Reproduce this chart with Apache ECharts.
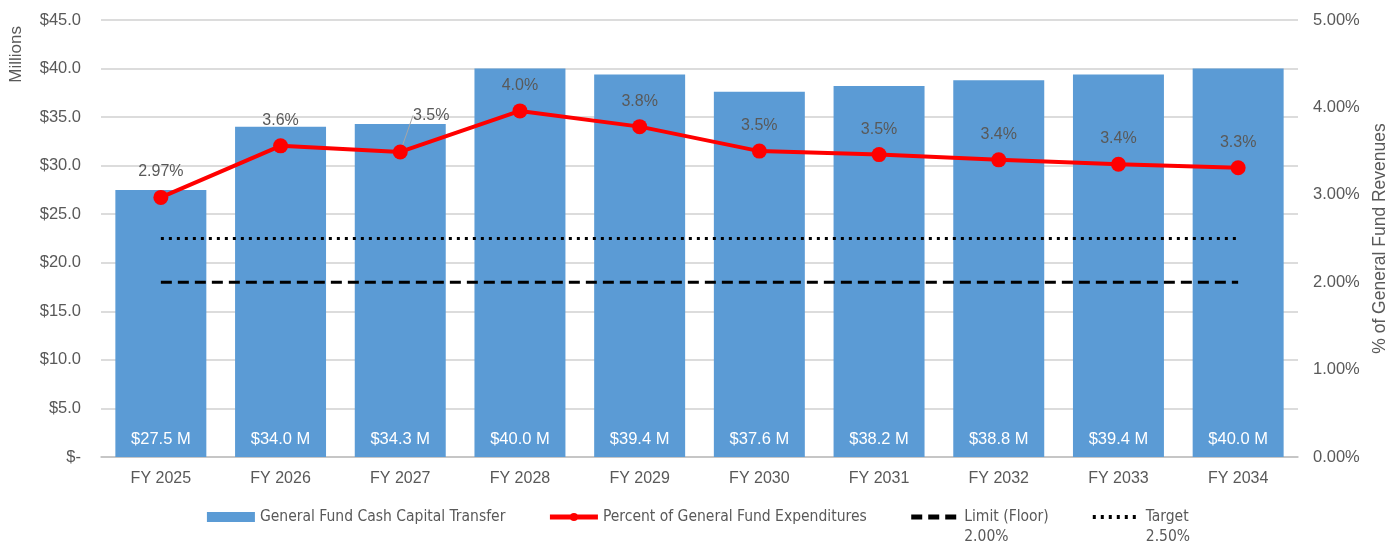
<!DOCTYPE html>
<html lang="en">
<head>
    <meta charset="UTF-8">
    <title>Cash Capital Transfer</title>
    <script src="https://cdn.jsdelivr.net/npm/echarts@6/dist/echarts.min.js"></script>
    <style>
        html, body { margin: 0; padding: 0; background: #fff; }
    </style>
</head>
<body>
<div id="main" style="width:1397px;height:546px;"></div>
<script>
    var years = ['FY 2025', 'FY 2026', 'FY 2027', 'FY 2028', 'FY 2029', 'FY 2030', 'FY 2031', 'FY 2032', 'FY 2033', 'FY 2034'];
    var transfer = [27.5, 34.0, 34.3, 40.0, 39.4, 37.6, 38.2, 38.8, 39.4, 40.0];
    var percent = [2.97, 3.56, 3.49, 3.96, 3.78, 3.50, 3.46, 3.40, 3.35, 3.31];
    var percentLabels = ['2.97%', '3.6%', '3.5%', '4.0%', '3.8%', '3.5%', '3.5%', '3.4%', '3.4%', '3.3%'];
    var limitFloor = [2.0, 2.0, 2.0, 2.0, 2.0, 2.0, 2.0, 2.0, 2.0, 2.0];
    var target = [2.5, 2.5, 2.5, 2.5, 2.5, 2.5, 2.5, 2.5, 2.5, 2.5];

    var gray = '#595959';
    var font = "'Liberation Sans', Arial, sans-serif";
    var narrow = "'Liberation Sans Narrow', 'DejaVu Sans Condensed', sans-serif";

    var percentData = percent.map(function (v, i) {
        var item = { value: v };
        if (i === 2) {
            item.labelLine = { show: true, lineStyle: { color: '#a6a6a6', width: 1 } };
        }
        return item;
    });

    // two-line legend entries: first line sits level with the icon
    var twoLine = {
        padding: [20, 0, 0, 0],
        lineHeight: 20,
        rich: {
            r: { fontFamily: narrow, fontSize: 15.5, color: gray, lineHeight: 20 }
        }
    };

    var chart = echarts.init(document.getElementById('main'));
    var option = {
        animation: false,
        grid: { left: 101, right: 99, top: 20, bottom: 89 },
        legend: {
            top: 482,
            left: 'center',
            itemWidth: 48,
            itemHeight: 10,
            itemGap: 42,
            itemTextGap: 6,
            textStyle: { fontFamily: narrow, fontSize: 15.5, color: gray, lineHeight: 20 },
            data: [
                { name: 'General Fund Cash Capital Transfer', icon: 'rect' },
                { name: 'Percent of General Fund Expenditures', lineStyle: { width: 5 } },
                { name: 'Limit (Floor)', textStyle: twoLine, itemStyle: { opacity: 0 }, lineStyle: { width: 5 } },
                { name: 'Target', textStyle: twoLine, itemStyle: { opacity: 0 }, lineStyle: { width: 4 } }
            ],
            formatter: function (name) {
                if (name === 'Limit (Floor)') return 'Limit (Floor)\n{r|2.00%}';
                if (name === 'Target') return 'Target\n{r|2.50%}';
                return name;
            }
        },
        graphic: [{
            type: 'text',
            left: 8,
            top: 26,
            rotation: Math.PI / 2,
            style: { text: 'Millions', fill: gray, font: '17px ' + font }
        }],
        xAxis: {
            type: 'category',
            data: years,
            axisTick: { show: false },
            axisLine: { lineStyle: { color: '#bfbfbf', width: 1.5 } },
            axisLabel: { color: gray, fontSize: 16, fontFamily: font, margin: 14 }
        },
        yAxis: [{
            type: 'value',
            min: 0,
            max: 45,
            interval: 5,
            axisLine: { show: false },
            axisTick: { show: false },
            splitLine: { lineStyle: { color: '#d0d0d0', width: 1.5 } },
            axisLabel: {
                color: gray, fontSize: 16.5, fontFamily: font, margin: 20,
                formatter: function (v) { return v === 0 ? '$-' : '$' + v.toFixed(1); }
            }
        }, {
            type: 'value',
            min: 0,
            max: 5,
            interval: 1,
            name: '% of General Fund Revenues',
            nameLocation: 'middle',
            nameRotate: 90,
            nameGap: 72,
            nameTextStyle: { color: gray, fontSize: 17.5, fontFamily: font },
            axisLine: { show: false },
            axisTick: { show: false },
            splitLine: { show: false },
            axisLabel: {
                color: gray, fontSize: 16.5, fontFamily: font, margin: 15,
                formatter: function (v) { return v.toFixed(2) + '%'; }
            }
        }],
        series: [{
            name: 'General Fund Cash Capital Transfer',
            type: 'bar',
            data: transfer,
            barCategoryGap: '24%',
            itemStyle: { color: '#5b9bd5' },
            label: {
                show: true,
                position: 'insideBottom',
                distance: 9,
                color: '#fff',
                fontSize: 16.5,
                fontFamily: font,
                formatter: function (p) { return '$' + p.value.toFixed(1) + ' M'; }
            }
        }, {
            name: 'Percent of General Fund Expenditures',
            type: 'line',
            yAxisIndex: 1,
            data: percentData,
            z: 5,
            symbol: 'circle',
            symbolSize: 15,
            lineStyle: { color: '#ff0000', width: 4 },
            itemStyle: { color: '#ff0000' },
            label: {
                show: true,
                position: 'top',
                distance: 10,
                color: gray,
                fontSize: 16,
                fontFamily: font,
                formatter: function (p) { return percentLabels[p.dataIndex]; }
            },
            labelLayout: function (p) {
                if (p.dataIndex === 2) return { dx: 31, dy: -11 };
                return {};
            }
        }, {
            name: 'Limit (Floor)',
            type: 'line',
            yAxisIndex: 1,
            data: limitFloor,
            symbol: 'none',
            z: 3,
            lineStyle: { color: '#000', width: 3, type: [11, 6] },
            itemStyle: { color: '#000' }
        }, {
            name: 'Target',
            type: 'line',
            yAxisIndex: 1,
            data: target,
            symbol: 'none',
            z: 3,
            lineStyle: { color: '#000', width: 3, type: [3, 5] },
            itemStyle: { color: '#000' }
        }]
    };
    chart.setOption(option);
</script>
</body>
</html>
